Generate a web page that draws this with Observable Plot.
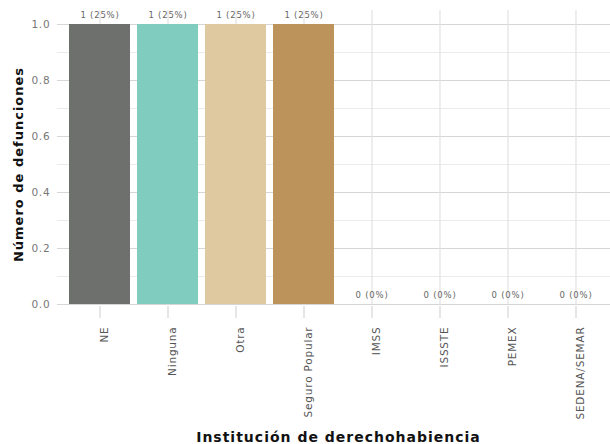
<!DOCTYPE html>
<html>
<head>
<meta charset="utf-8">
<script src="https://cdn.jsdelivr.net/npm/d3@7"></script>
<script src="https://cdn.jsdelivr.net/npm/@observablehq/plot@0.6"></script>
<style>
  html, body { margin: 0; padding: 0; background: #ffffff; }
  #chart svg { display: block; }
  .spaced text { letter-spacing: 0.8px; }
  .title text { letter-spacing: 1px; }
</style>
</head>
<body>
<div id="chart"></div>
<script>
const categories = ["NE", "Ninguna", "Otra", "Seguro Popular", "IMSS", "ISSSTE", "PEMEX", "SEDENA/SEMAR"];
const values = [1, 1, 1, 1, 0, 0, 0, 0];
const percents = [25, 25, 25, 25, 0, 0, 0, 0];
const colors = ["#6e706e", "#80cdc0", "#dfc9a1", "#bb935b", "#9a9a9a", "#9a9a9a", "#9a9a9a", "#9a9a9a"];
const majorTicks = [0, 0.2, 0.4, 0.6, 0.8, 1.0];
const minorTicks = [0.1, 0.3, 0.5, 0.7, 0.9];
const yTitle = "Número de defunciones";
const xTitle = "Institución de derechohabiencia";

const data = categories.map((c, i) => ({cat: c, value: values[i], label: `${values[i]} (${percents[i]}%)`}));

const font = "DejaVu Sans";

const chart = Plot.plot({
  width: 610,
  height: 444,
  marginTop: 10,
  marginBottom: 140,
  marginLeft: 57,
  marginRight: 0,
  style: {fontFamily: font, background: "#ffffff"},
  x: {domain: categories, range: [57, 618.7], paddingInner: 0.1, paddingOuter: 0.15, label: null},
  y: {domain: [0, 1.05], label: null},
  color: {domain: categories, range: colors},
  marks: [
    Plot.ruleY(minorTicks, {stroke: "#ebebeb", strokeWidth: 1}),
    Plot.ruleY(majorTicks, {stroke: "#d6d6d6", strokeWidth: 1.2}),
    Plot.ruleX(categories, {stroke: "#e2e2e2", strokeWidth: 1.2}),
    Plot.barY(data, {x: "cat", y: "value", fill: "cat"}),
    Plot.text(data, {x: "cat", y: "value", text: "label", dy: -9.5, fontSize: 8.5, fill: "#666666", lineAnchor: "middle", className: "spaced"}),
    Plot.axisY({ticks: majorTicks, tickFormat: d3.format(".1f"), tickSize: 0, tickPadding: 7, fontSize: 10.5, fill: "#777777", label: null, className: "spaced"}),
    Plot.axisX({ticks: categories, text: null, tickSize: 12, dy: 2, stroke: "#d6d6d6", strokeWidth: 1.2, label: null}),
    Plot.axisX({ticks: categories, tickSize: 0, tickPadding: 22, tickRotate: -90, dx: 5, fontSize: 10.5, fill: "#555555", label: null, className: "spaced"}),
    Plot.text([yTitle], {frameAnchor: "left", textAnchor: "middle", rotate: -90, dx: -39, dy: 7, fontSize: 13, fontWeight: "bold", fill: "#111111", lineAnchor: "middle", className: "title"}),
    Plot.text([xTitle], {frameAnchor: "bottom", textAnchor: "middle", dx: 4.5, dy: 133, fontSize: 14, fontWeight: "bold", fill: "#111111", lineAnchor: "middle", className: "title"})
  ]
});

document.getElementById("chart").appendChild(chart);
</script>
</body>
</html>
